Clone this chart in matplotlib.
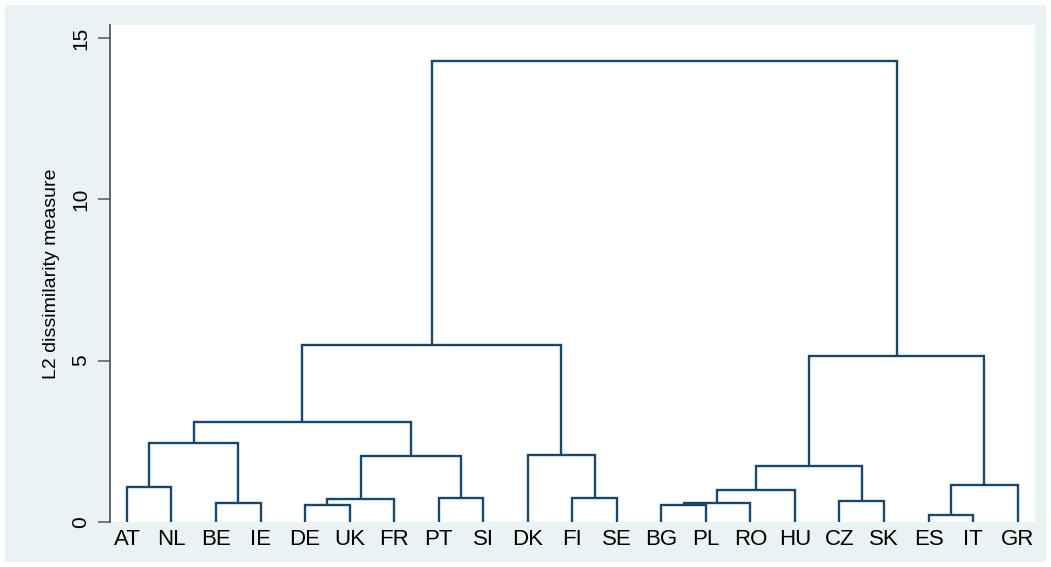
import matplotlib
matplotlib.use("Agg")
import matplotlib.pyplot as plt
from matplotlib.patches import Rectangle

# Hojas del dendrograma (orden de izquierda a derecha)
labels = ["AT", "NL", "BE", "IE", "DE", "UK", "FR", "PT", "SI", "DK", "FI",
          "SE", "BG", "PL", "RO", "HU", "CZ", "SK", "ES", "IT", "GR"]

# Fusiones: nodo izquierdo, nodo derecho, altura (indices >= 21 son clusters)
merge_left = [0, 2, 21, 4, 24, 7, 25, 23, 10, 9, 28, 12, 32, 33, 16, 34, 18, 37, 36, 31]
merge_right = [1, 3, 22, 5, 6, 8, 26, 27, 11, 29, 30, 13, 14, 15, 17, 35, 19, 20, 38, 39]
merge_height = [1.10, 0.58, 2.44, 0.54, 0.70, 0.75, 2.06, 3.11, 0.75, 2.08, 5.48,
                0.52, 0.58, 0.98, 0.64, 1.75, 0.23, 1.16, 5.14, 14.27]

y_ticks = [0, 5, 10, 15]

line_color = "#1a476f"
bg_color = "#eaf2f3"

fig = plt.figure(figsize=(10.51, 5.67), dpi=100, facecolor="white")
fig.patches.append(Rectangle((5 / 1051, 5 / 567), 1041 / 1051, 557 / 567,
                             transform=fig.transFigure, facecolor=bg_color,
                             edgecolor="none", zorder=-10))

ax = fig.add_axes([110 / 1051, 45 / 567, 925 / 1051, 497 / 567])
ax.set_facecolor("white")

# Posiciones x y alturas de cada nodo
n = len(labels)
xpos = {i: i + 1 for i in range(n)}
ypos = {i: 0.0 for i in range(n)}
for k, (a, b, h) in enumerate(zip(merge_left, merge_right, merge_height)):
    node = n + k
    ax.plot([xpos[a], xpos[a], xpos[b], xpos[b]], [ypos[a], h, h, ypos[b]],
            color=line_color, lw=1.7, solid_joinstyle="miter", solid_capstyle="butt")
    xpos[node] = (xpos[a] + xpos[b]) / 2
    ypos[node] = h

ax.set_xlim(0.62, 21.39)
ax.set_ylim(0, 15.4)

ax.set_xticks(range(1, n + 1))
ax.set_xticklabels(labels, fontsize=16, family="Liberation Sans")
ax.tick_params(axis="x", length=0, pad=5)

ax.set_yticks(y_ticks)
ax.set_yticklabels([str(t) for t in y_ticks], rotation=90, va="center",
                   fontsize=15, family="Liberation Sans")
ax.tick_params(axis="y", length=9, width=1.1, color="#555555", pad=5)

ax.set_ylabel("L2 dissimilarity measure", fontsize=14, family="Liberation Sans", labelpad=8)

for s in ["top", "right", "bottom"]:
    ax.spines[s].set_visible(False)
ax.spines["left"].set_color("#555555")
ax.spines["left"].set_linewidth(1.3)

fig.savefig("out.png", dpi=100, facecolor="white")
